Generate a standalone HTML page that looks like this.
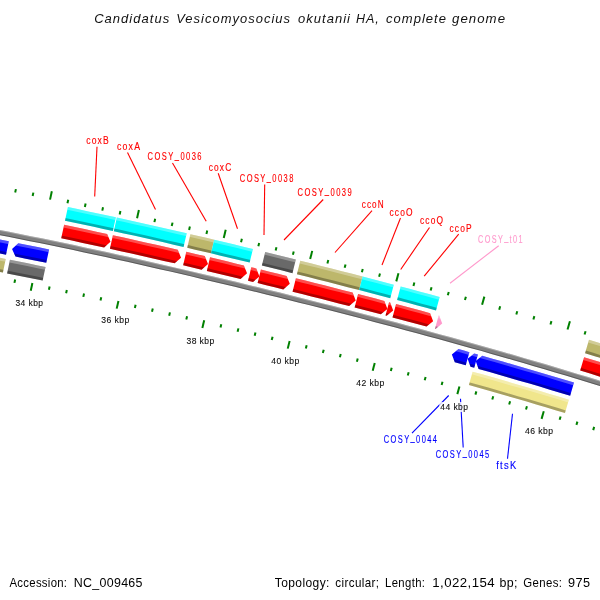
<!DOCTYPE html>
<html><head><meta charset="utf-8"><title>CGView</title>
<style>html,body{margin:0;padding:0;background:#fff}svg{display:block}text{font-family:"Liberation Sans",sans-serif}</style>
</head><body>
<svg width="600" height="600" viewBox="0 0 600 600">
<rect width="600" height="600" fill="#fff"/>
<filter id="noLcd" x="0" y="0" width="600" height="600" filterUnits="userSpaceOnUse"><feOffset dx="0" dy="0"/></filter>
<path d="M-44.99 221.56L-34.12 223.55L-23.25 225.57L-12.38 227.63L-1.53 229.71L9.33 231.83L20.17 233.98L31.02 236.15L41.85 238.35L52.68 240.58L63.51 242.83L74.33 245.11L85.14 247.42L95.95 249.74L106.76 252.09L117.56 254.46L128.35 256.86L139.14 259.27L149.93 261.70L160.71 264.16L171.49 266.63L182.26 269.13L193.03 271.64L203.79 274.17L214.55 276.71L225.31 279.28L236.06 281.86L246.81 284.46L257.55 287.08L268.29 289.71L279.03 292.36L289.76 295.03L300.48 297.71L311.21 300.41L321.92 303.13L332.64 305.86L343.35 308.61L354.06 311.38L364.76 314.16L375.45 316.96L386.15 319.78L396.83 322.61L407.52 325.47L418.20 328.34L428.87 331.23L439.54 334.13L450.20 337.06L460.86 340.01L471.51 342.97L482.16 345.96L492.80 348.97L503.43 352.00L514.06 355.06L524.68 358.13L535.29 361.23L545.90 364.36L556.50 367.51L567.09 370.68L577.67 373.88L588.25 377.11L598.81 380.37L609.37 383.66L619.92 386.98L630.45 390.33L640.98 393.71L651.50 397.12L662.00 400.57L672.50 404.06L682.98 407.58L681.46 412.45L670.99 408.93L660.50 405.45L650.01 402.00L639.50 398.59L628.98 395.21L618.45 391.86L607.91 388.55L597.36 385.26L586.80 382.01L576.23 378.78L565.66 375.58L555.07 372.40L544.48 369.26L533.88 366.13L523.28 363.04L512.66 359.96L502.05 356.91L491.42 353.88L480.79 350.87L470.15 347.89L459.50 344.92L448.85 341.98L438.20 339.05L427.54 336.15L416.87 333.26L406.20 330.39L395.53 327.54L384.84 324.71L374.16 321.89L363.47 319.10L352.78 316.31L342.08 313.55L331.38 310.80L320.67 308.07L309.96 305.36L299.24 302.66L288.52 299.98L277.80 297.31L267.07 294.66L256.34 292.03L245.60 289.42L234.86 286.82L224.12 284.24L213.37 281.68L202.62 279.13L191.86 276.60L181.10 274.09L170.34 271.60L159.57 269.13L148.79 266.68L138.01 264.24L127.23 261.83L116.44 259.44L105.65 257.07L94.85 254.72L84.05 252.40L73.24 250.10L62.43 247.82L51.62 245.57L40.79 243.34L29.96 241.14L19.13 238.97L8.29 236.82L-2.55 234.71L-13.40 232.62L-24.26 230.57L-35.12 228.55L-45.99 226.56Z" fill="#808080"/>
<path d="M-44.99 221.56L-34.12 223.55L-23.25 225.57L-12.38 227.63L-1.53 229.71L9.33 231.83L20.17 233.98L31.02 236.15L41.85 238.35L52.68 240.58L63.51 242.83L74.33 245.11L85.14 247.42L95.95 249.74L106.76 252.09L117.56 254.46L128.35 256.86L139.14 259.27L149.93 261.70L160.71 264.16L171.49 266.63L182.26 269.13L193.03 271.64L203.79 274.17L214.55 276.71L225.31 279.28L236.06 281.86L246.81 284.46L257.55 287.08L268.29 289.71L279.03 292.36L289.76 295.03L300.48 297.71L311.21 300.41L321.92 303.13L332.64 305.86L343.35 308.61L354.06 311.38L364.76 314.16L375.45 316.96L386.15 319.78L396.83 322.61L407.52 325.47L418.20 328.34L428.87 331.23L439.54 334.13L450.20 337.06L460.86 340.01L471.51 342.97L482.16 345.96L492.80 348.97L503.43 352.00L514.06 355.06L524.68 358.13L535.29 361.23L545.90 364.36L556.50 367.51L567.09 370.68L577.67 373.88L588.25 377.11L598.81 380.37L609.37 383.66L619.92 386.98L630.45 390.33L640.98 393.71L651.50 397.12L662.00 400.57L672.50 404.06L682.98 407.58L682.68 408.53L672.20 405.01L661.71 401.53L651.20 398.08L640.69 394.67L630.16 391.29L619.63 387.94L609.08 384.62L598.53 381.33L587.96 378.07L577.39 374.84L566.81 371.64L556.22 368.47L545.62 365.32L535.02 362.19L524.40 359.09L513.78 356.02L503.16 352.96L492.53 349.93L481.89 346.93L471.24 343.94L460.59 340.97L449.94 338.02L439.28 335.10L428.61 332.19L417.94 329.30L407.26 326.43L396.58 323.58L385.89 320.74L375.20 317.93L364.50 315.13L353.80 312.35L343.10 309.58L332.39 306.83L321.68 304.10L310.96 301.38L300.24 298.68L289.51 296.00L278.78 293.33L268.05 290.68L257.31 288.05L246.57 285.43L235.83 282.83L225.07 280.25L214.32 277.69L203.56 275.14L192.80 272.61L182.03 270.10L171.26 267.61L160.49 265.13L149.70 262.68L138.92 260.25L128.13 257.83L117.34 255.44L106.54 253.07L95.74 250.72L84.93 248.39L74.11 246.09L63.30 243.81L52.47 241.56L41.64 239.33L30.81 237.13L19.97 234.95L9.12 232.81L-1.73 230.69L-12.58 228.61L-23.45 226.55L-34.31 224.53L-45.19 222.54Z" fill="#fff" fill-opacity="0.3"/>
<path d="M-45.80 225.58L-34.93 227.57L-24.06 229.59L-13.20 231.64L-2.35 233.73L8.49 235.84L19.34 237.99L30.17 240.16L41.00 242.36L51.82 244.59L62.64 246.84L73.46 249.12L84.27 251.42L95.07 253.75L105.87 256.09L116.66 258.46L127.45 260.86L138.24 263.27L149.02 265.70L159.79 268.15L170.56 270.63L181.33 273.12L192.09 275.63L202.85 278.16L213.60 280.70L224.35 283.27L235.10 285.85L245.84 288.45L256.58 291.06L267.31 293.69L278.04 296.34L288.76 299.01L299.49 301.69L310.20 304.39L320.91 307.10L331.62 309.83L342.33 312.58L353.03 315.35L363.72 318.13L374.41 320.93L385.10 323.74L395.78 326.57L406.46 329.43L417.13 332.30L427.80 335.18L438.46 338.09L449.12 341.01L459.77 343.96L470.41 346.93L481.05 349.91L491.69 352.92L502.32 355.95L512.94 359.00L523.55 362.07L534.16 365.17L544.76 368.30L555.35 371.44L565.94 374.62L576.52 377.82L587.08 381.05L597.64 384.30L608.20 387.59L618.74 390.91L629.27 394.25L639.79 397.63L650.30 401.05L660.80 404.49L671.29 407.98L681.76 411.50L681.46 412.45L670.99 408.93L660.50 405.45L650.01 402.00L639.50 398.59L628.98 395.21L618.45 391.86L607.91 388.55L597.36 385.26L586.80 382.01L576.23 378.78L565.66 375.58L555.07 372.40L544.48 369.26L533.88 366.13L523.28 363.04L512.66 359.96L502.05 356.91L491.42 353.88L480.79 350.87L470.15 347.89L459.50 344.92L448.85 341.98L438.20 339.05L427.54 336.15L416.87 333.26L406.20 330.39L395.53 327.54L384.84 324.71L374.16 321.89L363.47 319.10L352.78 316.31L342.08 313.55L331.38 310.80L320.67 308.07L309.96 305.36L299.24 302.66L288.52 299.98L277.80 297.31L267.07 294.66L256.34 292.03L245.60 289.42L234.86 286.82L224.12 284.24L213.37 281.68L202.62 279.13L191.86 276.60L181.10 274.09L170.34 271.60L159.57 269.13L148.79 266.68L138.01 264.24L127.23 261.83L116.44 259.44L105.65 257.07L94.85 254.72L84.05 252.40L73.24 250.10L62.43 247.82L51.62 245.57L40.79 243.34L29.96 241.14L19.13 238.97L8.29 236.82L-2.55 234.71L-13.40 232.62L-24.26 230.57L-35.12 228.55L-45.99 226.56Z" fill="#000" fill-opacity="0.3"/>
<clipPath id="c1"><path d="M67.93 207.08L77.54 209.10L87.14 211.13L96.73 213.19L106.33 215.26L115.92 217.35L112.88 231.01L103.31 228.93L93.74 226.86L84.16 224.81L74.58 222.78L64.99 220.77Z"/></clipPath>
<path d="M67.93 207.08L77.54 209.10L87.14 211.13L96.73 213.19L106.33 215.26L115.92 217.35L112.88 231.01L103.31 228.93L93.74 226.86L84.16 224.81L74.58 222.78L64.99 220.77Z" fill="#00ffff"/>
<g clip-path="url(#c1)"><path d="M65.53 205.56L76.18 207.79L86.83 210.04L97.47 212.32L108.11 214.62L118.74 216.94L117.91 220.65L107.29 218.33L96.66 216.03L86.02 213.76L75.38 211.51L64.73 209.28Z" fill="#fff" fill-opacity="0.3"/><path d="M62.97 217.49L73.60 219.72L84.23 221.97L94.86 224.24L105.48 226.53L116.09 228.85L115.27 232.56L104.66 230.24L94.04 227.95L83.43 225.68L72.80 223.43L62.17 221.21Z" fill="#000" fill-opacity="0.3"/></g>
<clipPath id="c2"><path d="M116.83 217.55L126.83 219.75L136.82 221.96L146.81 224.20L156.79 226.45L166.78 228.72L176.75 231.01L186.73 233.31L183.56 246.94L173.60 244.65L163.64 242.36L153.68 240.10L143.72 237.85L133.75 235.62L123.77 233.41L113.79 231.21Z"/></clipPath>
<path d="M116.83 217.55L126.83 219.75L136.82 221.96L146.81 224.20L156.79 226.45L166.78 228.72L176.75 231.01L186.73 233.31L183.56 246.94L173.60 244.65L163.64 242.36L153.68 240.10L143.72 237.85L133.75 235.62L123.77 233.41L113.79 231.21Z" fill="#00ffff"/>
<g clip-path="url(#c2)"><path d="M114.44 216.00L125.18 218.36L135.92 220.74L146.66 223.14L157.39 225.56L168.11 228.00L178.83 230.46L189.55 232.94L188.69 236.64L177.98 234.16L167.26 231.70L156.54 229.26L145.82 226.84L135.09 224.45L124.36 222.07L113.62 219.71Z" fill="#fff" fill-opacity="0.3"/><path d="M111.80 227.91L122.52 230.27L133.25 232.64L143.96 235.04L154.67 237.45L165.38 239.89L176.09 242.35L186.78 244.82L185.92 248.52L175.23 246.05L164.53 243.59L153.83 241.16L143.12 238.74L132.41 236.35L121.70 233.97L110.98 231.62Z" fill="#000" fill-opacity="0.3"/></g>
<clipPath id="c3"><path d="M190.41 234.16L198.34 236.01L206.28 237.87L214.21 239.74L210.99 253.36L203.07 251.50L195.15 249.64L187.23 247.80Z"/></clipPath>
<path d="M190.41 234.16L198.34 236.01L206.28 237.87L214.21 239.74L210.99 253.36L203.07 251.50L195.15 249.64L187.23 247.80Z" fill="#bdb76b"/>
<g clip-path="url(#c3)"><path d="M188.04 232.59L197.71 234.84L207.37 237.10L217.04 239.38L216.16 243.08L206.50 240.80L196.84 238.54L187.18 236.29Z" fill="#fff" fill-opacity="0.3"/><path d="M185.27 244.47L194.93 246.71L204.58 248.98L214.22 251.25L213.35 254.95L203.70 252.67L194.06 250.41L184.41 248.17Z" fill="#000" fill-opacity="0.3"/></g>
<clipPath id="c4"><path d="M214.21 239.74L223.90 242.04L233.58 244.35L243.27 246.67L252.94 249.01L249.65 262.62L239.99 260.28L230.32 257.96L220.66 255.66L210.99 253.36Z"/></clipPath>
<path d="M214.21 239.74L223.90 242.04L233.58 244.35L243.27 246.67L252.94 249.01L249.65 262.62L239.99 260.28L230.32 257.96L220.66 255.66L210.99 253.36Z" fill="#00ffff"/>
<g clip-path="url(#c4)"><path d="M211.85 238.15L220.64 240.23L229.42 242.32L238.21 244.43L246.99 246.54L255.77 248.67L254.88 252.36L246.10 250.24L237.32 248.12L228.54 246.02L219.76 243.93L210.97 241.85Z" fill="#fff" fill-opacity="0.3"/><path d="M209.04 250.03L217.82 252.10L226.59 254.19L235.36 256.29L244.13 258.40L252.89 260.52L252.00 264.22L243.24 262.09L234.47 259.98L225.71 257.89L216.94 255.80L208.17 253.73Z" fill="#000" fill-opacity="0.3"/></g>
<clipPath id="c5"><path d="M265.21 251.99L275.43 254.50L285.64 257.02L295.85 259.55L292.47 273.14L282.28 270.61L272.09 268.09L261.89 265.59Z"/></clipPath>
<path d="M265.21 251.99L275.43 254.50L285.64 257.02L295.85 259.55L292.47 273.14L282.28 270.61L272.09 268.09L261.89 265.59Z" fill="#696969"/>
<g clip-path="url(#c5)"><path d="M262.86 250.39L271.82 252.58L280.78 254.79L289.73 257.00L298.68 259.23L297.76 262.91L288.82 260.69L279.87 258.47L270.91 256.27L261.96 254.08Z" fill="#fff" fill-opacity="0.3"/><path d="M259.97 262.24L268.91 264.43L277.85 266.63L286.79 268.84L295.73 271.06L294.81 274.75L285.88 272.53L276.94 270.32L268.01 268.12L259.07 265.94Z" fill="#000" fill-opacity="0.3"/></g>
<clipPath id="c6"><path d="M300.30 260.66L310.69 263.26L321.09 265.88L331.48 268.52L341.87 271.17L352.25 273.83L362.63 276.51L359.12 290.07L348.76 287.39L338.40 284.73L328.03 282.08L317.66 279.45L307.28 276.84L296.91 274.24Z"/></clipPath>
<path d="M300.30 260.66L310.69 263.26L321.09 265.88L331.48 268.52L341.87 271.17L352.25 273.83L362.63 276.51L359.12 290.07L348.76 287.39L338.40 284.73L328.03 282.08L317.66 279.45L307.28 276.84L296.91 274.24Z" fill="#bdb76b"/>
<g clip-path="url(#c6)"><path d="M297.95 259.04L307.60 261.46L317.26 263.88L326.90 266.32L336.55 268.78L346.19 271.24L355.83 273.72L365.46 276.22L364.51 279.89L354.88 277.40L345.25 274.92L335.61 272.46L325.97 270.01L316.33 267.57L306.68 265.14L297.03 262.73Z" fill="#fff" fill-opacity="0.3"/><path d="M295.00 270.88L304.64 273.29L314.27 275.71L323.91 278.15L333.53 280.60L343.16 283.06L352.78 285.53L362.40 288.02L361.45 291.70L351.83 289.21L342.22 286.74L332.60 284.28L322.97 281.83L313.34 279.40L303.71 276.98L294.08 274.57Z" fill="#000" fill-opacity="0.3"/></g>
<clipPath id="c7"><path d="M362.63 276.51L373.03 279.22L383.42 281.93L393.81 284.67L390.24 298.21L379.87 295.48L369.50 292.76L359.12 290.07Z"/></clipPath>
<path d="M362.63 276.51L373.03 279.22L383.42 281.93L393.81 284.67L390.24 298.21L379.87 295.48L369.50 292.76L359.12 290.07Z" fill="#00ffff"/>
<g clip-path="url(#c7)"><path d="M360.30 274.88L369.39 277.24L378.48 279.61L387.56 281.99L396.64 284.38L395.67 288.06L386.60 285.66L377.52 283.28L368.43 280.91L359.35 278.56Z" fill="#fff" fill-opacity="0.3"/><path d="M357.24 286.69L366.32 289.04L375.39 291.41L384.46 293.79L393.53 296.18L392.56 299.85L383.49 297.46L374.43 295.09L365.36 292.72L356.29 290.37Z" fill="#000" fill-opacity="0.3"/></g>
<clipPath id="c8"><path d="M400.68 286.49L410.44 289.08L420.18 291.69L429.93 294.32L439.66 296.96L436.00 310.47L426.28 307.84L416.56 305.22L406.83 302.61L397.10 300.02Z"/></clipPath>
<path d="M400.68 286.49L410.44 289.08L420.18 291.69L429.93 294.32L439.66 296.96L436.00 310.47L426.28 307.84L416.56 305.22L406.83 302.61L397.10 300.02Z" fill="#00ffff"/>
<g clip-path="url(#c8)"><path d="M398.36 284.84L407.20 287.19L416.03 289.54L424.85 291.91L433.68 294.30L442.50 296.69L441.50 300.36L432.69 297.97L423.87 295.58L415.05 293.21L406.22 290.86L397.39 288.51Z" fill="#fff" fill-opacity="0.3"/><path d="M395.24 296.63L404.06 298.98L412.88 301.33L421.69 303.70L430.50 306.07L439.31 308.47L438.31 312.13L429.51 309.74L420.70 307.37L411.90 305.00L403.09 302.65L394.27 300.31Z" fill="#000" fill-opacity="0.3"/></g>
<clipPath id="c9"><path d="M588.99 339.80L599.49 343.02L609.99 346.26L620.48 349.52L630.96 352.82L641.43 356.15L651.89 359.51L662.34 362.91L672.78 366.34L683.21 369.80L693.63 373.30L689.47 386.67L679.08 383.17L668.67 379.72L658.25 376.30L647.82 372.91L637.38 369.55L626.93 366.23L616.47 362.94L606.00 359.67L595.52 356.44L585.04 353.23Z"/></clipPath>
<path d="M588.99 339.80L599.49 343.02L609.99 346.26L620.48 349.52L630.96 352.82L641.43 356.15L651.89 359.51L662.34 362.91L672.78 366.34L683.21 369.80L693.63 373.30L689.47 386.67L679.08 383.17L668.67 379.72L658.25 376.30L647.82 372.91L637.38 369.55L626.93 366.23L616.47 362.94L606.00 359.67L595.52 356.44L585.04 353.23Z" fill="#bdb76b"/>
<g clip-path="url(#c9)"><path d="M586.72 338.07L596.73 341.12L606.75 344.20L616.75 347.31L626.75 350.44L636.73 353.60L646.71 356.79L656.68 360.01L666.64 363.26L676.59 366.54L686.52 369.85L696.45 373.20L695.32 376.82L685.40 373.48L675.47 370.17L665.52 366.89L655.57 363.65L645.61 360.43L635.64 357.24L625.65 354.08L615.66 350.95L605.67 347.85L595.66 344.77L585.64 341.71Z" fill="#fff" fill-opacity="0.3"/><path d="M583.28 349.77L593.28 352.82L603.28 355.90L613.26 359.00L623.24 362.13L633.21 365.29L643.17 368.47L653.12 371.68L663.06 374.93L673.00 378.20L682.92 381.51L692.83 384.84L691.70 388.47L681.79 385.14L671.88 381.83L661.95 378.56L652.02 375.32L642.07 372.11L632.11 368.92L622.15 365.77L612.18 362.64L602.19 359.54L592.20 356.47L582.21 353.42Z" fill="#000" fill-opacity="0.3"/></g>
<clipPath id="c10"><path d="M64.13 224.78L74.89 227.04L85.65 229.32L96.40 231.63L107.14 233.96L110.49 241.80L104.14 247.53L93.41 245.20L82.68 242.90L71.95 240.62L61.21 238.37Z"/></clipPath>
<path d="M64.13 224.78L74.89 227.04L85.65 229.32L96.40 231.63L107.14 233.96L110.49 241.80L104.14 247.53L93.41 245.20L82.68 242.90L71.95 240.62L61.21 238.37Z" fill="#ff0000"/>
<g clip-path="url(#c10)"><path d="M61.73 223.26L72.36 225.48L82.98 227.73L93.59 230.00L104.20 232.29L114.81 234.61L113.99 238.30L103.39 235.99L92.78 233.69L82.17 231.42L71.56 229.18L60.94 226.95Z" fill="#fff" fill-opacity="0.3"/><path d="M59.19 235.11L69.80 237.33L80.40 239.57L91.00 241.84L101.59 244.13L112.18 246.44L111.36 250.13L100.78 247.82L90.19 245.53L79.60 243.27L69.00 241.02L58.40 238.80Z" fill="#000" fill-opacity="0.3"/></g>
<clipPath id="c11"><path d="M112.90 235.22L123.73 237.60L134.55 240.00L145.37 242.43L156.18 244.87L166.99 247.34L177.79 249.82L181.05 257.71L174.65 263.36L163.87 260.88L153.08 258.42L142.29 255.98L131.50 253.56L120.70 251.16L109.89 248.78Z"/></clipPath>
<path d="M112.90 235.22L123.73 237.60L134.55 240.00L145.37 242.43L156.18 244.87L166.99 247.34L177.79 249.82L181.05 257.71L174.65 263.36L163.87 260.88L153.08 258.42L142.29 255.98L131.50 253.56L120.70 251.16L109.89 248.78Z" fill="#ff0000"/>
<g clip-path="url(#c11)"><path d="M110.52 233.67L121.24 236.02L131.95 238.40L142.66 240.79L153.36 243.21L164.06 245.64L174.76 248.09L185.45 250.57L184.59 254.25L173.90 251.78L163.22 249.32L152.52 246.89L141.82 244.48L131.12 242.09L120.42 239.71L109.70 237.36Z" fill="#fff" fill-opacity="0.3"/><path d="M107.90 245.50L118.60 247.85L129.29 250.22L139.98 252.61L150.67 255.02L161.35 257.45L172.02 259.90L182.70 262.37L181.84 266.05L171.17 263.58L160.50 261.14L149.83 258.71L139.15 256.30L128.46 253.91L117.77 251.54L107.08 249.19Z" fill="#000" fill-opacity="0.3"/></g>
<clipPath id="c12"><path d="M186.30 251.79L195.54 253.94L204.78 256.11L208.01 264.01L201.59 269.64L192.37 267.48L183.14 265.33Z"/></clipPath>
<path d="M186.30 251.79L195.54 253.94L204.78 256.11L208.01 264.01L201.59 269.64L192.37 267.48L183.14 265.33Z" fill="#ff0000"/>
<g clip-path="url(#c12)"><path d="M183.93 250.21L193.44 252.43L202.94 254.65L212.43 256.89L211.56 260.57L202.07 258.33L192.58 256.11L183.08 253.90Z" fill="#fff" fill-opacity="0.3"/><path d="M181.19 262.02L190.67 264.23L200.16 266.45L209.64 268.68L208.77 272.36L199.29 270.13L189.81 267.91L180.33 265.70Z" fill="#000" fill-opacity="0.3"/></g>
<clipPath id="c13"><path d="M210.04 257.35L218.50 259.36L226.95 261.37L235.40 263.40L243.85 265.43L247.04 273.35L240.59 278.94L232.15 276.91L223.72 274.89L215.28 272.88L206.84 270.88Z"/></clipPath>
<path d="M210.04 257.35L218.50 259.36L226.95 261.37L235.40 263.40L243.85 265.43L247.04 273.35L240.59 278.94L232.15 276.91L223.72 274.89L215.28 272.88L206.84 270.88Z" fill="#ff0000"/>
<g clip-path="url(#c13)"><path d="M207.68 255.77L216.45 257.84L225.22 259.93L233.98 262.03L242.74 264.14L251.50 266.26L250.61 269.93L241.86 267.81L233.10 265.70L224.34 263.61L215.58 261.52L206.81 259.45Z" fill="#fff" fill-opacity="0.3"/><path d="M204.90 267.56L213.65 269.63L222.40 271.72L231.15 273.81L239.90 275.92L248.64 278.03L247.75 281.71L239.01 279.59L230.27 277.49L221.52 275.39L212.78 273.31L204.03 271.24Z" fill="#000" fill-opacity="0.3"/></g>
<clipPath id="c14"><path d="M251.31 267.24L256.31 268.45L259.48 276.38L253.02 281.96L248.03 280.75Z"/></clipPath>
<path d="M251.31 267.24L256.31 268.45L259.48 276.38L253.02 281.96L248.03 280.75Z" fill="#ff0000"/>
<g clip-path="url(#c14)"><path d="M248.96 265.64L256.46 267.46L263.95 269.29L263.05 272.96L255.56 271.13L248.07 269.31Z" fill="#fff" fill-opacity="0.3"/><path d="M246.10 277.42L253.59 279.24L261.07 281.06L260.17 284.73L252.69 282.91L245.21 281.09Z" fill="#000" fill-opacity="0.3"/></g>
<clipPath id="c15"><path d="M260.92 269.58L269.50 271.68L278.08 273.79L286.66 275.92L289.80 283.86L283.31 289.41L274.75 287.29L266.18 285.18L257.62 283.08Z"/></clipPath>
<path d="M260.92 269.58L269.50 271.68L278.08 273.79L286.66 275.92L289.80 283.86L283.31 289.41L274.75 287.29L266.18 285.18L257.62 283.08Z" fill="#ff0000"/>
<g clip-path="url(#c15)"><path d="M258.57 267.98L267.51 270.16L276.44 272.36L285.37 274.57L294.30 276.79L293.39 280.46L284.46 278.24L275.54 276.03L266.61 273.83L257.67 271.65Z" fill="#fff" fill-opacity="0.3"/><path d="M255.70 279.75L264.62 281.93L273.54 284.13L282.46 286.33L291.37 288.55L290.46 292.22L281.55 290.00L272.63 287.80L263.72 285.60L254.80 283.42Z" fill="#000" fill-opacity="0.3"/></g>
<clipPath id="c16"><path d="M295.91 278.22L305.38 280.59L314.83 282.97L324.29 285.36L333.74 287.77L343.19 290.19L352.64 292.62L355.71 300.60L349.16 306.08L339.74 303.65L330.30 301.24L320.87 298.84L311.43 296.45L301.99 294.07L292.55 291.71Z"/></clipPath>
<path d="M295.91 278.22L305.38 280.59L314.83 282.97L324.29 285.36L333.74 287.77L343.19 290.19L352.64 292.62L355.71 300.60L349.16 306.08L339.74 303.65L330.30 301.24L320.87 298.84L311.43 296.45L301.99 294.07L292.55 291.71Z" fill="#ff0000"/>
<g clip-path="url(#c16)"><path d="M293.57 276.61L303.11 278.99L312.65 281.39L322.18 283.80L331.71 286.22L341.23 288.66L350.76 291.11L360.27 293.57L359.33 297.23L349.81 294.77L340.29 292.32L330.77 289.88L321.25 287.46L311.72 285.05L302.19 282.66L292.66 280.27Z" fill="#fff" fill-opacity="0.3"/><path d="M290.64 288.37L300.16 290.75L309.68 293.14L319.20 295.55L328.71 297.96L338.22 300.40L347.73 302.84L357.23 305.30L356.28 308.96L346.78 306.50L337.28 304.06L327.78 301.63L318.27 299.21L308.76 296.80L299.25 294.41L289.73 292.03Z" fill="#000" fill-opacity="0.3"/></g>
<clipPath id="c17"><path d="M358.09 294.04L366.86 296.31L375.63 298.60L384.39 300.90L387.42 308.89L380.85 314.35L372.11 312.05L363.36 309.76L354.61 307.49Z"/></clipPath>
<path d="M358.09 294.04L366.86 296.31L375.63 298.60L384.39 300.90L387.42 308.89L380.85 314.35L372.11 312.05L363.36 309.76L354.61 307.49Z" fill="#ff0000"/>
<g clip-path="url(#c17)"><path d="M355.77 292.40L364.83 294.75L373.90 297.12L382.96 299.49L392.02 301.88L391.05 305.54L382.00 303.15L372.94 300.77L363.88 298.41L354.82 296.06Z" fill="#fff" fill-opacity="0.3"/><path d="M352.73 304.13L361.78 306.48L370.83 308.84L379.88 311.22L388.92 313.60L387.96 317.26L378.92 314.87L369.88 312.50L360.83 310.14L351.78 307.79Z" fill="#000" fill-opacity="0.3"/></g>
<clipPath id="c18"><path d="M389.06 302.14L390.18 302.43L393.20 310.42L386.63 315.87L385.52 315.58Z"/></clipPath>
<path d="M389.06 302.14L390.18 302.43L393.20 310.42L386.63 315.87L385.52 315.58Z" fill="#ff0000"/>
<g clip-path="url(#c18)"><path d="M386.74 300.49L392.28 301.95L397.81 303.42L396.84 307.07L391.31 305.61L385.78 304.15Z" fill="#fff" fill-opacity="0.3"/><path d="M383.66 312.21L389.18 313.67L394.70 315.13L393.73 318.79L388.21 317.32L382.69 315.87Z" fill="#000" fill-opacity="0.3"/></g>
<clipPath id="c19"><path d="M396.05 303.99L404.58 306.25L413.10 308.53L421.62 310.82L430.14 313.13L433.12 321.14L426.51 326.54L418.01 324.25L409.51 321.96L401.00 319.69L392.49 317.42Z"/></clipPath>
<path d="M396.05 303.99L404.58 306.25L413.10 308.53L421.62 310.82L430.14 313.13L433.12 321.14L426.51 326.54L418.01 324.25L409.51 321.96L401.00 319.69L392.49 317.42Z" fill="#ff0000"/>
<g clip-path="url(#c19)"><path d="M393.73 302.34L402.55 304.68L411.35 307.03L420.16 309.39L428.96 311.77L437.76 314.16L436.77 317.81L427.98 315.42L419.18 313.04L410.38 310.68L401.57 308.33L392.77 305.99Z" fill="#fff" fill-opacity="0.3"/><path d="M390.63 314.05L399.43 316.39L408.23 318.74L417.02 321.10L425.80 323.47L434.59 325.86L433.60 329.51L424.82 327.12L416.04 324.75L407.25 322.39L398.46 320.04L389.67 317.71Z" fill="#000" fill-opacity="0.3"/></g>
<clipPath id="c20"><path d="M438.65 315.44L439.21 315.59L442.18 323.61L435.57 329.01L435.01 328.85Z"/></clipPath>
<path d="M438.65 315.44L439.21 315.59L442.18 323.61L435.57 329.01L435.01 328.85Z" fill="#ff99cc"/>
<g clip-path="url(#c20)"><path d="M436.35 313.78L446.83 316.64L445.84 320.28L435.36 317.42Z" fill="#fff" fill-opacity="0.3"/><path d="M433.18 325.47L443.64 328.33L442.65 331.98L432.19 329.12Z" fill="#000" fill-opacity="0.3"/></g>
<clipPath id="c21"><path d="M584.09 357.23L594.08 360.29L604.05 363.36L614.02 366.47L623.98 369.60L633.94 372.76L643.88 375.94L653.81 379.16L663.74 382.41L673.65 385.69L683.55 389.00L686.20 397.22L679.44 402.27L669.55 398.97L659.66 395.70L649.76 392.46L639.84 389.24L629.92 386.06L619.98 382.91L610.04 379.79L600.09 376.69L590.13 373.61L580.17 370.57Z"/></clipPath>
<path d="M584.09 357.23L594.08 360.29L604.05 363.36L614.02 366.47L623.98 369.60L633.94 372.76L643.88 375.94L653.81 379.16L663.74 382.41L673.65 385.69L683.55 389.00L686.20 397.22L679.44 402.27L669.55 398.97L659.66 395.70L649.76 392.46L639.84 389.24L629.92 386.06L619.98 382.91L610.04 379.79L600.09 376.69L590.13 373.61L580.17 370.57Z" fill="#ff0000"/>
<g clip-path="url(#c21)"><path d="M581.83 355.50L591.80 358.54L601.77 361.61L611.73 364.70L621.68 367.82L631.62 370.97L641.56 374.15L651.48 377.35L661.39 380.59L671.30 383.85L681.19 387.15L691.07 390.48L689.95 394.09L680.07 390.76L670.19 387.46L660.29 384.20L650.38 380.97L640.46 377.76L630.53 374.59L620.59 371.44L610.65 368.33L600.69 365.23L590.73 362.17L580.76 359.13Z" fill="#fff" fill-opacity="0.3"/><path d="M578.41 367.13L588.37 370.17L598.32 373.23L608.26 376.32L618.20 379.43L628.12 382.57L638.04 385.75L647.95 388.94L657.84 392.17L667.73 395.43L677.61 398.73L687.48 402.05L686.35 405.66L676.49 402.34L666.62 399.05L656.74 395.79L646.84 392.56L636.94 389.36L627.03 386.19L617.11 383.05L607.18 379.94L597.24 376.85L587.30 373.79L577.35 370.75Z" fill="#000" fill-opacity="0.3"/></g>
<clipPath id="c22"><path d="M-41.96 231.66L-31.80 233.54L-21.64 235.44L-11.49 237.37L-1.34 239.32L8.81 241.31L6.02 254.72L-4.10 252.74L-14.23 250.79L-24.37 248.86L-34.51 246.97L-44.65 245.10L-48.17 237.50Z"/></clipPath>
<path d="M-41.96 231.66L-31.80 233.54L-21.64 235.44L-11.49 237.37L-1.34 239.32L8.81 241.31L6.02 254.72L-4.10 252.74L-14.23 250.79L-24.37 248.86L-34.51 246.97L-44.65 245.10L-48.17 237.50Z" fill="#0000ff"/>
<g clip-path="url(#c22)"><path d="M-49.24 229.32L-39.09 231.17L-28.94 233.05L-18.79 234.96L-8.65 236.89L1.48 238.85L11.61 240.84L10.85 244.50L0.72 242.52L-9.40 240.56L-19.54 238.62L-29.68 236.72L-39.82 234.84L-49.97 232.99Z" fill="#fff" fill-opacity="0.3"/><path d="M-51.58 241.06L-41.44 242.90L-31.31 244.78L-21.18 246.68L-11.05 248.61L-0.94 250.57L9.18 252.55L8.41 256.21L-1.69 254.23L-11.81 252.27L-21.92 250.34L-32.05 248.44L-42.17 246.57L-52.31 244.72Z" fill="#000" fill-opacity="0.3"/></g>
<clipPath id="c23"><path d="M18.30 243.19L28.57 245.25L38.85 247.33L49.12 249.44L46.26 262.84L36.01 260.73L25.75 258.65L15.49 256.60L12.05 248.93Z"/></clipPath>
<path d="M18.30 243.19L28.57 245.25L38.85 247.33L49.12 249.44L46.26 262.84L36.01 260.73L25.75 258.65L15.49 256.60L12.05 248.93Z" fill="#0000ff"/>
<g clip-path="url(#c23)"><path d="M11.05 240.73L21.27 242.76L31.49 244.82L41.71 246.90L51.92 249.00L51.14 252.66L40.93 250.55L30.72 248.48L20.51 246.42L10.29 244.39Z" fill="#fff" fill-opacity="0.3"/><path d="M8.61 252.44L18.82 254.47L29.03 256.52L39.23 258.60L49.42 260.70L48.64 264.35L38.45 262.25L28.25 260.18L18.06 258.13L7.85 256.10Z" fill="#000" fill-opacity="0.3"/></g>
<clipPath id="c24"><path d="M458.45 349.09L463.94 350.62L469.42 352.15L465.76 365.35L460.29 363.82L454.81 362.30L451.86 354.38Z"/></clipPath>
<path d="M458.45 349.09L463.94 350.62L469.42 352.15L465.76 365.35L460.29 363.82L454.81 362.30L451.86 354.38Z" fill="#0000ff"/>
<g clip-path="url(#c24)"><path d="M451.39 346.10L461.82 348.99L472.24 351.90L471.24 355.51L460.82 352.60L450.40 349.71Z" fill="#fff" fill-opacity="0.3"/><path d="M448.22 357.64L458.64 360.52L469.04 363.43L468.04 367.03L457.64 364.13L447.23 361.24Z" fill="#000" fill-opacity="0.3"/></g>
<clipPath id="c25"><path d="M474.19 353.49L477.93 354.54L474.25 367.74L470.52 366.69L467.59 358.75Z"/></clipPath>
<path d="M474.19 353.49L477.93 354.54L474.25 367.74L470.52 366.69L467.59 358.75Z" fill="#0000ff"/>
<g clip-path="url(#c25)"><path d="M467.14 350.47L473.95 352.38L480.75 354.29L479.74 357.90L472.94 355.98L466.14 354.08Z" fill="#fff" fill-opacity="0.3"/><path d="M463.95 362.00L470.74 363.90L477.54 365.81L476.53 369.42L469.74 367.51L462.95 365.61Z" fill="#000" fill-opacity="0.3"/></g>
<clipPath id="c26"><path d="M482.27 355.76L492.49 358.66L502.70 361.57L512.91 364.51L523.11 367.46L533.30 370.44L543.49 373.45L553.67 376.47L563.84 379.52L574.01 382.59L570.15 395.74L560.00 392.67L549.85 389.63L539.68 386.61L529.52 383.61L519.34 380.64L509.16 377.69L498.97 374.75L488.78 371.84L478.58 368.95L475.67 361.02Z"/></clipPath>
<path d="M482.27 355.76L492.49 358.66L502.70 361.57L512.91 364.51L523.11 367.46L533.30 370.44L543.49 373.45L553.67 376.47L563.84 379.52L574.01 382.59L570.15 395.74L560.00 392.67L549.85 389.63L539.68 386.61L529.52 383.61L519.34 380.64L509.16 377.69L498.97 374.75L488.78 371.84L478.58 368.95L475.67 361.02Z" fill="#0000ff"/>
<g clip-path="url(#c26)"><path d="M475.22 352.74L485.41 355.61L495.59 358.50L505.77 361.41L515.94 364.34L526.10 367.30L536.26 370.27L546.41 373.27L556.56 376.29L566.70 379.34L576.83 382.41L575.77 385.99L565.65 382.93L555.51 379.88L545.37 376.86L535.23 373.87L525.08 370.89L514.92 367.94L504.75 365.01L494.58 362.10L484.40 359.21L474.22 356.34Z" fill="#fff" fill-opacity="0.3"/><path d="M472.02 364.26L482.19 367.13L492.35 370.01L502.51 372.92L512.67 375.85L522.81 378.79L532.96 381.77L543.09 384.76L553.22 387.78L563.34 390.82L573.45 393.88L572.39 397.47L562.29 394.40L552.17 391.37L542.05 388.35L531.92 385.36L521.79 382.39L511.64 379.44L501.49 376.52L491.34 373.61L481.18 370.73L471.01 367.86Z" fill="#000" fill-opacity="0.3"/></g>
<clipPath id="c27"><path d="M-50.33 248.33L-40.97 250.04L-31.62 251.77L-22.28 253.53L-12.94 255.31L-3.60 257.12L5.73 258.94L2.91 272.55L-6.41 270.73L-15.73 268.93L-25.05 267.15L-34.38 265.40L-43.71 263.67L-53.05 261.96Z"/></clipPath>
<path d="M-50.33 248.33L-40.97 250.04L-31.62 251.77L-22.28 253.53L-12.94 255.31L-3.60 257.12L5.73 258.94L2.91 272.55L-6.41 270.73L-15.73 268.93L-25.05 267.15L-34.38 265.40L-43.71 263.67L-53.05 261.96Z" fill="#bdb76b"/>
<g clip-path="url(#c27)"><path d="M-52.74 246.88L-42.51 248.74L-32.29 250.63L-22.08 252.55L-11.87 254.50L-1.67 256.48L8.53 258.48L7.76 262.18L-2.43 260.18L-12.63 258.20L-22.83 256.26L-33.04 254.34L-43.25 252.45L-53.47 250.59Z" fill="#fff" fill-opacity="0.3"/><path d="M-55.10 258.77L-44.89 260.63L-34.69 262.51L-24.50 264.43L-14.30 266.37L-4.12 268.35L6.06 270.34L5.29 274.04L-4.88 272.05L-15.06 270.08L-25.25 268.13L-35.44 266.22L-45.64 264.33L-55.84 262.48Z" fill="#000" fill-opacity="0.3"/></g>
<clipPath id="c28"><path d="M9.92 259.77L18.84 261.55L27.75 263.34L36.65 265.15L45.55 266.98L42.65 280.58L33.77 278.75L24.88 276.94L15.99 275.15L7.09 273.38Z"/></clipPath>
<path d="M9.92 259.77L18.84 261.55L27.75 263.34L36.65 265.15L45.55 266.98L42.65 280.58L33.77 278.75L24.88 276.94L15.99 275.15L7.09 273.38Z" fill="#696969"/>
<g clip-path="url(#c28)"><path d="M7.53 258.28L17.75 260.31L27.95 262.36L38.15 264.44L48.35 266.54L47.56 270.24L37.37 268.14L27.17 266.06L16.97 264.01L6.77 261.98Z" fill="#fff" fill-opacity="0.3"/><path d="M5.07 270.15L15.26 272.17L25.45 274.22L35.64 276.29L45.81 278.39L45.02 282.09L34.85 279.99L24.67 277.92L14.49 275.87L4.30 273.85Z" fill="#000" fill-opacity="0.3"/></g>
<clipPath id="c29"><path d="M472.62 371.64L482.27 374.36L491.91 377.10L501.56 379.86L511.19 382.64L520.82 385.44L530.44 388.26L540.06 391.10L549.67 393.96L559.28 396.84L568.88 399.74L564.96 413.08L555.38 410.18L545.79 407.31L536.20 404.45L526.60 401.62L517.00 398.81L507.39 396.01L497.77 393.24L488.15 390.48L478.52 387.75L468.89 385.03Z"/></clipPath>
<path d="M472.62 371.64L482.27 374.36L491.91 377.10L501.56 379.86L511.19 382.64L520.82 385.44L530.44 388.26L540.06 391.10L549.67 393.96L559.28 396.84L568.88 399.74L564.96 413.08L555.38 410.18L545.79 407.31L536.20 404.45L526.60 401.62L517.00 398.81L507.39 396.01L497.77 393.24L488.15 390.48L478.52 387.75L468.89 385.03Z" fill="#f0e68c"/>
<g clip-path="url(#c29)"><path d="M470.34 369.96L480.50 372.82L490.66 375.71L500.81 378.61L510.96 381.54L521.10 384.48L531.23 387.45L541.35 390.44L551.47 393.45L561.59 396.49L571.69 399.55L570.62 403.18L560.52 400.12L550.42 397.08L540.30 394.07L530.18 391.08L520.06 388.12L509.92 385.17L499.78 382.25L489.64 379.35L479.48 376.46L469.33 373.60Z" fill="#fff" fill-opacity="0.3"/><path d="M467.09 381.64L477.24 384.49L487.38 387.37L497.51 390.27L507.64 393.19L517.76 396.13L527.88 399.10L537.99 402.08L548.09 405.09L558.18 408.12L568.27 411.18L567.20 414.81L557.12 411.75L547.03 408.72L536.94 405.71L526.83 402.73L516.72 399.77L506.60 396.83L496.48 393.91L486.35 391.01L476.22 388.14L466.08 385.28Z" fill="#000" fill-opacity="0.3"/></g>
<line x1="-53.93" y1="266.41" x2="-55.48" y2="274.16" stroke="#008000" stroke-width="2"/>
<line x1="-37.16" y1="182.24" x2="-35.50" y2="173.91" stroke="#008000" stroke-width="2"/>
<line x1="-36.65" y1="269.61" x2="-37.32" y2="272.95" stroke="#008000" stroke-width="2"/>
<line x1="-19.70" y1="185.62" x2="-19.00" y2="182.19" stroke="#008000" stroke-width="2"/>
<line x1="-19.37" y1="272.87" x2="-20.06" y2="276.20" stroke="#008000" stroke-width="2"/>
<line x1="-2.24" y1="189.05" x2="-1.54" y2="185.62" stroke="#008000" stroke-width="2"/>
<line x1="-2.11" y1="276.18" x2="-2.80" y2="279.51" stroke="#008000" stroke-width="2"/>
<line x1="15.20" y1="192.53" x2="15.91" y2="189.10" stroke="#008000" stroke-width="2"/>
<line x1="15.14" y1="279.55" x2="14.45" y2="282.88" stroke="#008000" stroke-width="2"/>
<line x1="32.64" y1="196.05" x2="33.36" y2="192.63" stroke="#008000" stroke-width="2"/>
<line x1="32.39" y1="282.97" x2="30.75" y2="290.70" stroke="#008000" stroke-width="2"/>
<line x1="50.06" y1="199.63" x2="51.83" y2="191.31" stroke="#008000" stroke-width="2"/>
<line x1="49.62" y1="286.45" x2="48.91" y2="289.78" stroke="#008000" stroke-width="2"/>
<line x1="67.48" y1="203.25" x2="68.21" y2="199.83" stroke="#008000" stroke-width="2"/>
<line x1="66.84" y1="289.99" x2="66.12" y2="293.31" stroke="#008000" stroke-width="2"/>
<line x1="84.88" y1="206.92" x2="85.63" y2="203.50" stroke="#008000" stroke-width="2"/>
<line x1="84.05" y1="293.58" x2="83.32" y2="296.90" stroke="#008000" stroke-width="2"/>
<line x1="102.28" y1="210.65" x2="103.03" y2="207.23" stroke="#008000" stroke-width="2"/>
<line x1="101.25" y1="297.22" x2="100.51" y2="300.54" stroke="#008000" stroke-width="2"/>
<line x1="119.66" y1="214.42" x2="120.42" y2="211.00" stroke="#008000" stroke-width="2"/>
<line x1="118.44" y1="300.93" x2="116.70" y2="308.63" stroke="#008000" stroke-width="2"/>
<line x1="137.04" y1="218.24" x2="138.90" y2="209.94" stroke="#008000" stroke-width="2"/>
<line x1="135.61" y1="304.68" x2="134.86" y2="308.00" stroke="#008000" stroke-width="2"/>
<line x1="154.40" y1="222.10" x2="155.18" y2="218.69" stroke="#008000" stroke-width="2"/>
<line x1="152.77" y1="308.49" x2="152.01" y2="311.81" stroke="#008000" stroke-width="2"/>
<line x1="171.76" y1="226.02" x2="172.54" y2="222.61" stroke="#008000" stroke-width="2"/>
<line x1="169.93" y1="312.36" x2="169.16" y2="315.67" stroke="#008000" stroke-width="2"/>
<line x1="189.10" y1="229.99" x2="189.89" y2="226.58" stroke="#008000" stroke-width="2"/>
<line x1="187.06" y1="316.28" x2="186.29" y2="319.59" stroke="#008000" stroke-width="2"/>
<line x1="206.43" y1="234.00" x2="207.23" y2="230.60" stroke="#008000" stroke-width="2"/>
<line x1="204.19" y1="320.26" x2="202.36" y2="327.94" stroke="#008000" stroke-width="2"/>
<line x1="223.75" y1="238.07" x2="225.72" y2="229.80" stroke="#008000" stroke-width="2"/>
<line x1="221.30" y1="324.29" x2="220.51" y2="327.60" stroke="#008000" stroke-width="2"/>
<line x1="241.06" y1="242.18" x2="241.87" y2="238.77" stroke="#008000" stroke-width="2"/>
<line x1="238.41" y1="328.38" x2="237.60" y2="331.68" stroke="#008000" stroke-width="2"/>
<line x1="258.35" y1="246.34" x2="259.18" y2="242.94" stroke="#008000" stroke-width="2"/>
<line x1="255.49" y1="332.52" x2="254.68" y2="335.82" stroke="#008000" stroke-width="2"/>
<line x1="275.64" y1="250.55" x2="276.47" y2="247.15" stroke="#008000" stroke-width="2"/>
<line x1="272.57" y1="336.72" x2="271.75" y2="340.02" stroke="#008000" stroke-width="2"/>
<line x1="292.91" y1="254.80" x2="293.75" y2="251.41" stroke="#008000" stroke-width="2"/>
<line x1="289.63" y1="340.97" x2="287.70" y2="348.63" stroke="#008000" stroke-width="2"/>
<line x1="310.17" y1="259.11" x2="312.24" y2="250.87" stroke="#008000" stroke-width="2"/>
<line x1="306.67" y1="345.28" x2="305.84" y2="348.57" stroke="#008000" stroke-width="2"/>
<line x1="327.42" y1="263.46" x2="328.28" y2="260.07" stroke="#008000" stroke-width="2"/>
<line x1="323.71" y1="349.64" x2="322.86" y2="352.93" stroke="#008000" stroke-width="2"/>
<line x1="344.66" y1="267.87" x2="345.52" y2="264.48" stroke="#008000" stroke-width="2"/>
<line x1="340.73" y1="354.06" x2="339.87" y2="357.35" stroke="#008000" stroke-width="2"/>
<line x1="361.88" y1="272.32" x2="362.76" y2="268.93" stroke="#008000" stroke-width="2"/>
<line x1="357.73" y1="358.53" x2="356.87" y2="361.82" stroke="#008000" stroke-width="2"/>
<line x1="379.09" y1="276.82" x2="379.98" y2="273.43" stroke="#008000" stroke-width="2"/>
<line x1="374.72" y1="363.05" x2="372.70" y2="370.69" stroke="#008000" stroke-width="2"/>
<line x1="396.29" y1="281.37" x2="398.46" y2="273.15" stroke="#008000" stroke-width="2"/>
<line x1="391.69" y1="367.64" x2="390.82" y2="370.92" stroke="#008000" stroke-width="2"/>
<line x1="413.48" y1="285.96" x2="414.38" y2="282.58" stroke="#008000" stroke-width="2"/>
<line x1="408.65" y1="372.27" x2="407.77" y2="375.55" stroke="#008000" stroke-width="2"/>
<line x1="430.65" y1="290.61" x2="431.56" y2="287.23" stroke="#008000" stroke-width="2"/>
<line x1="425.60" y1="376.96" x2="424.71" y2="380.24" stroke="#008000" stroke-width="2"/>
<line x1="447.81" y1="295.30" x2="448.73" y2="291.92" stroke="#008000" stroke-width="2"/>
<line x1="442.53" y1="381.70" x2="441.63" y2="384.98" stroke="#008000" stroke-width="2"/>
<line x1="464.95" y1="300.04" x2="465.88" y2="296.67" stroke="#008000" stroke-width="2"/>
<line x1="459.44" y1="386.50" x2="457.33" y2="394.12" stroke="#008000" stroke-width="2"/>
<line x1="482.09" y1="304.83" x2="484.36" y2="296.64" stroke="#008000" stroke-width="2"/>
<line x1="476.34" y1="391.36" x2="475.42" y2="394.63" stroke="#008000" stroke-width="2"/>
<line x1="499.21" y1="309.67" x2="500.15" y2="306.30" stroke="#008000" stroke-width="2"/>
<line x1="493.22" y1="396.26" x2="492.30" y2="399.54" stroke="#008000" stroke-width="2"/>
<line x1="516.31" y1="314.55" x2="517.26" y2="311.18" stroke="#008000" stroke-width="2"/>
<line x1="510.09" y1="401.22" x2="509.16" y2="404.49" stroke="#008000" stroke-width="2"/>
<line x1="533.40" y1="319.48" x2="534.36" y2="316.12" stroke="#008000" stroke-width="2"/>
<line x1="526.94" y1="406.24" x2="526.00" y2="409.51" stroke="#008000" stroke-width="2"/>
<line x1="550.48" y1="324.46" x2="551.45" y2="321.10" stroke="#008000" stroke-width="2"/>
<line x1="543.77" y1="411.31" x2="541.57" y2="418.90" stroke="#008000" stroke-width="2"/>
<line x1="567.54" y1="329.49" x2="569.91" y2="321.33" stroke="#008000" stroke-width="2"/>
<line x1="560.59" y1="416.43" x2="559.63" y2="419.70" stroke="#008000" stroke-width="2"/>
<line x1="584.59" y1="334.57" x2="585.58" y2="331.21" stroke="#008000" stroke-width="2"/>
<line x1="577.39" y1="421.61" x2="576.42" y2="424.87" stroke="#008000" stroke-width="2"/>
<line x1="601.62" y1="339.69" x2="602.62" y2="336.34" stroke="#008000" stroke-width="2"/>
<line x1="594.17" y1="426.84" x2="593.20" y2="430.10" stroke="#008000" stroke-width="2"/>
<line x1="618.64" y1="344.87" x2="619.65" y2="341.51" stroke="#008000" stroke-width="2"/>
<line x1="610.93" y1="432.13" x2="609.95" y2="435.38" stroke="#008000" stroke-width="2"/>
<line x1="635.65" y1="350.09" x2="636.66" y2="346.74" stroke="#008000" stroke-width="2"/>
<line x1="627.68" y1="437.47" x2="625.38" y2="445.03" stroke="#008000" stroke-width="2"/>
<line x1="652.64" y1="355.35" x2="655.11" y2="347.22" stroke="#008000" stroke-width="2"/>
<line x1="644.41" y1="442.86" x2="643.41" y2="446.11" stroke="#008000" stroke-width="2"/>
<line x1="669.61" y1="360.67" x2="670.64" y2="357.32" stroke="#008000" stroke-width="2"/>
<line x1="661.12" y1="448.31" x2="660.12" y2="451.56" stroke="#008000" stroke-width="2"/>
<line x1="686.57" y1="366.03" x2="687.61" y2="362.69" stroke="#008000" stroke-width="2"/>
<line x1="97.00" y1="146.70" x2="94.70" y2="196.50" stroke="#ff0000" stroke-width="1.1"/>
<line x1="127.50" y1="152.50" x2="155.50" y2="209.50" stroke="#ff0000" stroke-width="1.1"/>
<line x1="172.50" y1="163.00" x2="206.20" y2="221.20" stroke="#ff0000" stroke-width="1.1"/>
<line x1="218.20" y1="173.20" x2="237.50" y2="228.70" stroke="#ff0000" stroke-width="1.1"/>
<line x1="264.70" y1="184.50" x2="264.00" y2="235.00" stroke="#ff0000" stroke-width="1.1"/>
<line x1="323.20" y1="199.50" x2="284.00" y2="240.00" stroke="#ff0000" stroke-width="1.1"/>
<line x1="372.00" y1="210.70" x2="335.00" y2="252.50" stroke="#ff0000" stroke-width="1.1"/>
<line x1="400.50" y1="218.00" x2="382.00" y2="265.00" stroke="#ff0000" stroke-width="1.1"/>
<line x1="429.50" y1="227.50" x2="400.70" y2="269.50" stroke="#ff0000" stroke-width="1.1"/>
<line x1="458.70" y1="234.20" x2="424.20" y2="276.20" stroke="#ff0000" stroke-width="1.1"/>
<line x1="498.70" y1="245.70" x2="450.00" y2="283.20" stroke="#ff99cc" stroke-width="1.1"/>
<line x1="412.00" y1="433.20" x2="448.70" y2="395.50" stroke="#0000ff" stroke-width="1.1"/>
<line x1="463.20" y1="447.50" x2="460.50" y2="398.70" stroke="#0000ff" stroke-width="1.1"/>
<line x1="507.50" y1="458.70" x2="512.50" y2="413.70" stroke="#0000ff" stroke-width="1.1"/>
<rect x="14.5" y="298.0" width="29.5" height="10.0" fill="#fff" fill-opacity="0.8"/>
<rect x="100.2" y="315.7" width="30.0" height="10.0" fill="#fff" fill-opacity="0.8"/>
<rect x="185.5" y="336.2" width="29.7" height="10.0" fill="#fff" fill-opacity="0.8"/>
<rect x="270.2" y="356.7" width="30.0" height="10.0" fill="#fff" fill-opacity="0.8"/>
<rect x="355.2" y="378.7" width="30.0" height="10.0" fill="#fff" fill-opacity="0.8"/>
<rect x="439.3" y="402.0" width="29.7" height="10.0" fill="#fff" fill-opacity="0.8"/>
<rect x="524.0" y="426.2" width="30.0" height="10.0" fill="#fff" fill-opacity="0.8"/>
<g filter="url(#noLcd)">
<text x="15.50" y="305.50" font-size="8.2" fill="#111" textLength="27.91" lengthAdjust="spacingAndGlyphs" letter-spacing="0.4" stroke="#111" stroke-width="0.12">34 kbp</text>
<text x="101.20" y="323.20" font-size="8.2" fill="#111" textLength="28.42" lengthAdjust="spacingAndGlyphs" letter-spacing="0.4" stroke="#111" stroke-width="0.12">36 kbp</text>
<text x="186.50" y="343.70" font-size="8.2" fill="#111" textLength="28.12" lengthAdjust="spacingAndGlyphs" letter-spacing="0.4" stroke="#111" stroke-width="0.12">38 kbp</text>
<text x="271.20" y="364.20" font-size="8.2" fill="#111" textLength="28.42" lengthAdjust="spacingAndGlyphs" letter-spacing="0.4" stroke="#111" stroke-width="0.12">40 kbp</text>
<text x="356.20" y="386.20" font-size="8.2" fill="#111" textLength="28.42" lengthAdjust="spacingAndGlyphs" letter-spacing="0.4" stroke="#111" stroke-width="0.12">42 kbp</text>
<text x="440.30" y="409.50" font-size="8.2" fill="#111" textLength="28.12" lengthAdjust="spacingAndGlyphs" letter-spacing="0.4" stroke="#111" stroke-width="0.12">44 kbp</text>
<text x="525.00" y="433.70" font-size="8.2" fill="#111" textLength="28.42" lengthAdjust="spacingAndGlyphs" letter-spacing="0.4" stroke="#111" stroke-width="0.12">46 kbp</text>
<text x="86.20" y="143.70" font-size="11" fill="#ff0000" textLength="23.77" lengthAdjust="spacingAndGlyphs" letter-spacing="1.5" stroke="#ff0000" stroke-width="0.15">coxB</text>
<text x="117.00" y="150.00" font-size="11" fill="#ff0000" textLength="24.19" lengthAdjust="spacingAndGlyphs" letter-spacing="1.5" stroke="#ff0000" stroke-width="0.15">coxA</text>
<text x="147.60" y="159.80" font-size="11" fill="#ff0000" textLength="55.34" lengthAdjust="spacingAndGlyphs" letter-spacing="2.1" stroke="#ff0000" stroke-width="0.15">COSY<tspan dy="-1.3">_</tspan><tspan dy="1.3">0036</tspan></text>
<text x="208.70" y="170.50" font-size="11" fill="#ff0000" textLength="23.64" lengthAdjust="spacingAndGlyphs" letter-spacing="1.5" stroke="#ff0000" stroke-width="0.15">coxC</text>
<text x="239.80" y="181.80" font-size="11" fill="#ff0000" textLength="54.93" lengthAdjust="spacingAndGlyphs" letter-spacing="2.1" stroke="#ff0000" stroke-width="0.15">COSY<tspan dy="-1.3">_</tspan><tspan dy="1.3">0038</tspan></text>
<text x="297.50" y="195.50" font-size="11" fill="#ff0000" textLength="55.65" lengthAdjust="spacingAndGlyphs" letter-spacing="2.1" stroke="#ff0000" stroke-width="0.15">COSY<tspan dy="-1.3">_</tspan><tspan dy="1.3">0039</tspan></text>
<text x="361.70" y="207.50" font-size="11" fill="#ff0000" textLength="23.12" lengthAdjust="spacingAndGlyphs" letter-spacing="1.5" stroke="#ff0000" stroke-width="0.15">ccoN</text>
<text x="389.50" y="215.70" font-size="11" fill="#ff0000" textLength="24.14" lengthAdjust="spacingAndGlyphs" letter-spacing="1.5" stroke="#ff0000" stroke-width="0.15">ccoO</text>
<text x="420.00" y="223.70" font-size="11" fill="#ff0000" textLength="24.14" lengthAdjust="spacingAndGlyphs" letter-spacing="1.5" stroke="#ff0000" stroke-width="0.15">ccoQ</text>
<text x="449.50" y="231.70" font-size="11" fill="#ff0000" textLength="23.35" lengthAdjust="spacingAndGlyphs" letter-spacing="1.5" stroke="#ff0000" stroke-width="0.15">ccoP</text>
<text x="478.00" y="242.50" font-size="11" fill="#ff99cc" textLength="45.89" lengthAdjust="spacingAndGlyphs" letter-spacing="2.1" stroke="#ff99cc" stroke-width="0.15">COSY<tspan dy="-1.3">_</tspan><tspan dy="1.3">t01</tspan></text>
<text x="383.70" y="442.50" font-size="11" fill="#0000ff" textLength="54.72" lengthAdjust="spacingAndGlyphs" letter-spacing="2.1" stroke="#0000ff" stroke-width="0.15">COSY<tspan dy="-1.3">_</tspan><tspan dy="1.3">0044</tspan></text>
<text x="435.70" y="457.50" font-size="11" fill="#0000ff" textLength="54.93" lengthAdjust="spacingAndGlyphs" letter-spacing="2.1" stroke="#0000ff" stroke-width="0.15">COSY<tspan dy="-1.3">_</tspan><tspan dy="1.3">0045</tspan></text>
<text x="496.20" y="469.20" font-size="11" fill="#0000ff" textLength="21.28" lengthAdjust="spacingAndGlyphs" letter-spacing="1.5" stroke="#0000ff" stroke-width="0.15">ftsK</text>
<text x="94.20" y="23.00" font-size="12.8" fill="#111" textLength="76.02" lengthAdjust="spacingAndGlyphs" letter-spacing="1.0" font-style="italic">Candidatus</text>
<text x="176.20" y="23.00" font-size="12.8" fill="#111" textLength="114.81" lengthAdjust="spacingAndGlyphs" letter-spacing="1.0" font-style="italic">Vesicomyosocius</text>
<text x="298.00" y="23.00" font-size="12.8" fill="#111" textLength="53.02" lengthAdjust="spacingAndGlyphs" letter-spacing="1.0" font-style="italic">okutanii</text>
<text x="356.00" y="23.00" font-size="12.8" fill="#111" textLength="23.78" lengthAdjust="spacingAndGlyphs" letter-spacing="1.0" font-style="italic">HA,</text>
<text x="386.00" y="23.00" font-size="12.8" fill="#111" textLength="61.02" lengthAdjust="spacingAndGlyphs" letter-spacing="1.0" font-style="italic">complete</text>
<text x="452.00" y="23.00" font-size="12.8" fill="#111" textLength="54.03" lengthAdjust="spacingAndGlyphs" letter-spacing="1.0" font-style="italic">genome</text>
<text x="9.50" y="586.70" font-size="12.1" fill="#000" textLength="57.78" lengthAdjust="spacingAndGlyphs" letter-spacing="0.3" >Accession:</text>
<text x="73.70" y="586.70" font-size="12.1" fill="#000" textLength="69.11" lengthAdjust="spacingAndGlyphs" letter-spacing="0.3" >NC_009465</text>
<text x="274.80" y="586.70" font-size="12.1" fill="#000" textLength="55.00" lengthAdjust="spacingAndGlyphs" letter-spacing="0.4" >Topology:</text>
<text x="335.30" y="586.70" font-size="12.1" fill="#000" textLength="44.08" lengthAdjust="spacingAndGlyphs" letter-spacing="0.4" >circular;</text>
<text x="385.00" y="586.70" font-size="12.1" fill="#000" textLength="40.37" lengthAdjust="spacingAndGlyphs" letter-spacing="0.4" >Length:</text>
<text x="432.30" y="586.70" font-size="12.1" fill="#000" textLength="62.74" lengthAdjust="spacingAndGlyphs" letter-spacing="0.4" >1,022,154</text>
<text x="499.40" y="586.70" font-size="12.1" fill="#000" textLength="18.51" lengthAdjust="spacingAndGlyphs" letter-spacing="0.4" >bp;</text>
<text x="523.30" y="586.70" font-size="12.1" fill="#000" textLength="39.08" lengthAdjust="spacingAndGlyphs" letter-spacing="0.4" >Genes:</text>
<text x="568.00" y="586.70" font-size="12.1" fill="#000" textLength="22.42" lengthAdjust="spacingAndGlyphs" letter-spacing="0.4" >975</text>
</g>
</svg>
</body></html>
